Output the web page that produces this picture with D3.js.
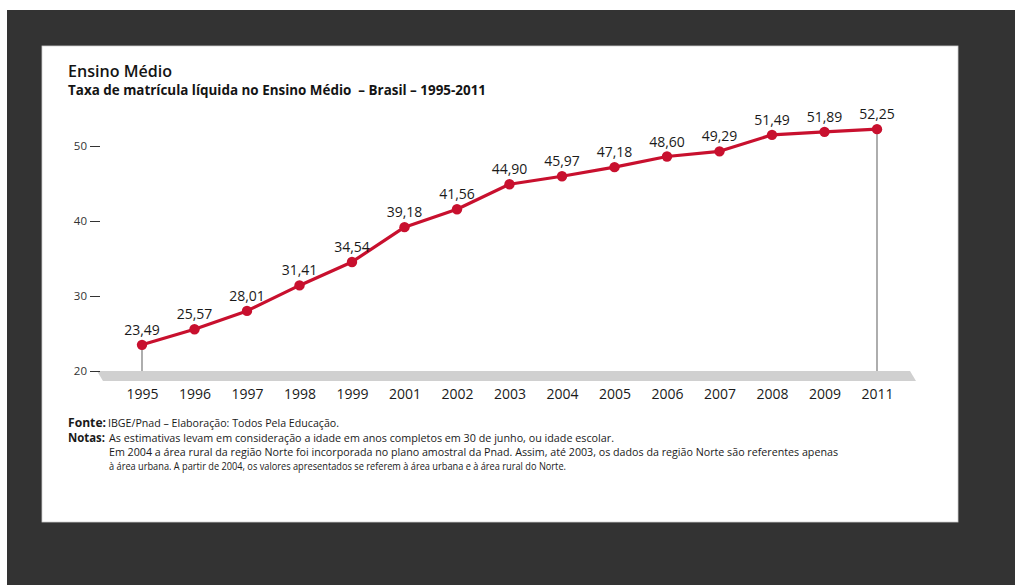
<!DOCTYPE html>
<html>
<head>
<meta charset="utf-8">
<script src="https://cdn.jsdelivr.net/npm/d3@7"></script>
<style>
  html, body { margin: 0; padding: 0; background: #ffffff; }
  svg { display: block; }
</style>
</head>
<body>
<svg id="chart" width="1015" height="585"></svg>
<script>
// Taxa de matrícula líquida no Ensino Médio, Brasil
const years = ["1995","1996","1997","1998","1999","2001","2002","2003","2004","2005","2006","2007","2008","2009","2011"];
const rates = [23.49, 25.57, 28.01, 31.41, 34.54, 39.18, 41.56, 44.90, 45.97, 47.18, 48.60, 49.29, 51.49, 51.89, 52.25];
const yTicks = [20, 30, 40, 50];

const title = "Ensino Médio";
const subtitle = "Taxa de matrícula líquida no Ensino Médio \u00A0– Brasil – 1995-2011";
const sourceLabel = "Fonte:";
const sourceText = "IBGE/Pnad – Elaboração: Todos Pela Educação.";
const notesLabel = "Notas:";
const notesLines = [
  "As estimativas levam em consideração a idade em anos completos em 30 de junho, ou idade escolar.",
  "Em 2004 a área rural da região Norte foi incorporada no plano amostral da Pnad. Assim, até 2003, os dados da região Norte são referentes apenas",
  "à área urbana. A partir de 2004, os valores apresentados se referem à área urbana e à área rural do Norte."
];

const fmt = v => d3.format(".2f")(v).replace(".", ",");

const svg = d3.select("#chart");

// dark backdrop and white card
svg.append("rect").attr("x", 7).attr("y", 10).attr("width", 1008).attr("height", 575).attr("fill", "#333333");
svg.append("rect").attr("x", 42).attr("y", 46).attr("width", 916).attr("height", 476)
  .attr("fill", "#ffffff").attr("stroke", "#cfcfcf").attr("stroke-width", 0.8);

const x = d3.scalePoint().domain(years).range([142, 877]);
const y = d3.scaleLinear().domain([20, 50]).range([371, 146]);

const sans = "'Open Sans', 'Noto Sans', sans-serif";
const narrow = "'Liberation Sans Narrow', 'Open Sans', sans-serif";

// titles
svg.append("text").attr("x", 68).attr("y", 77).text(title)
  .attr("font-family", sans).attr("font-size", 17).attr("font-weight", 600).attr("fill", "#141414")
  .attr("textLength", 104).attr("lengthAdjust", "spacingAndGlyphs");
svg.append("text").attr("x", 68).attr("y", 95).text(subtitle)
  .attr("font-family", sans).attr("font-size", 13.5).attr("font-weight", 700).attr("fill", "#141414")
  .attr("textLength", 418).attr("lengthAdjust", "spacingAndGlyphs");

// gray baseline band
const bandTop = y(20), bandBot = y(20) + 10;
svg.append("path")
  .attr("d", `M97,${bandTop} L910,${bandTop} L916,${bandBot} L103,${bandBot} Z`)
  .attr("fill", "#d0d0d0");

// y axis ticks
const yAxis = d3.axisLeft(y).tickValues(yTicks).tickSize(10).tickPadding(3);
const gy = svg.append("g").attr("transform", "translate(100,0)").call(yAxis);
gy.select(".domain").remove();
gy.selectAll(".tick line").attr("stroke", "#333").attr("stroke-width", 1);
gy.selectAll(".tick text").attr("font-family", sans).attr("font-size", 11.5).attr("fill", "#333");

// x axis labels
const xAxis = d3.axisBottom(x).tickSize(0).tickPadding(0);
const gx = svg.append("g").attr("transform", `translate(0,${bandBot + 8})`).call(xAxis);
gx.select(".domain").remove();
gx.selectAll(".tick text").attr("font-family", sans).attr("font-size", 14).attr("fill", "#1a1a1a");

// drop lines for first and last points
const ends = [0, years.length - 1];
svg.selectAll(".drop").data(ends).join("line")
  .attr("x1", i => x(years[i])).attr("x2", i => x(years[i]))
  .attr("y1", i => y(rates[i])).attr("y2", bandTop)
  .attr("stroke", "#777").attr("stroke-width", 1.2);

// series line
const red = "#c8102e";
const line = d3.line().x((d, i) => x(years[i])).y(d => y(d));
svg.append("path").datum(rates).attr("d", line)
  .attr("fill", "none").attr("stroke", red).attr("stroke-width", 3.2).attr("stroke-linejoin", "round");

svg.selectAll(".dot").data(rates).join("circle")
  .attr("cx", (d, i) => x(years[i])).attr("cy", d => y(d)).attr("r", 5.2).attr("fill", red);

svg.selectAll(".val").data(rates).join("text")
  .attr("x", (d, i) => x(years[i])).attr("y", d => y(d) - 10)
  .attr("text-anchor", "middle").text(d => fmt(d))
  .attr("font-family", sans).attr("font-size", 14).attr("fill", "#1a1a1a");

// source and notes
const noteSize = 11.5;
function noteText(xp, yp, txt, bold, len) {
  const t = svg.append("text").attr("x", xp).attr("y", yp).text(txt)
    .attr("font-family", narrow).attr("font-size", noteSize).attr("fill", "#1a1a1a")
    .attr("font-weight", bold ? 700 : 400);
  if (len) t.attr("textLength", len).attr("lengthAdjust", "spacingAndGlyphs");
  return t;
}
noteText(68, 427, sourceLabel, true, 38);
noteText(108, 427, sourceText, false, 231);
noteText(68, 442, notesLabel, true, 37);
noteText(109, 442, notesLines[0], false, 505);
noteText(109, 456, notesLines[1], false, 729);
noteText(109, 470, notesLines[2], false, 457);
</script>
</body>
</html>
